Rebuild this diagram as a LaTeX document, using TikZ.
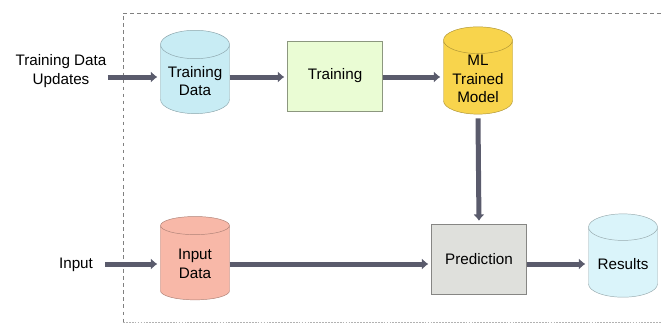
\documentclass[tikz,border=0pt]{standalone}
\usepackage{fontspec}
\setmainfont{Liberation Sans}
\usepackage{tikz}
\usetikzlibrary{arrows.meta, shapes.geometric}

\definecolor{flowgray}{HTML}{5A5B6C}
\definecolor{tdfill}{HTML}{C8ECF4}
\definecolor{trainfill}{HTML}{EAFCD4}
\definecolor{modelfill}{HTML}{F8D44C}
\definecolor{infill}{HTML}{F8B8A8}
\definecolor{predfill}{HTML}{DFE0DC}
\definecolor{resfill}{HTML}{DAF4FA}

\begin{document}
\begin{tikzpicture}[x=0.03cm, y=-0.03cm,
	font=\fontsize{13}{16}\selectfont,
	store/.style={cylinder, shape border rotate=90, aspect=0.5, draw=#1!70!black, align=center,
	  minimum width=2.07cm, minimum height=2.5cm, inner sep=1pt},
	stage/.style={rectangle, draw=#1!60!black, align=center, minimum width=2.85cm, minimum height=2.1cm},
	flow/.style={draw=flowgray, line width=1.5mm, -{Latex[length=1.9mm, width=3.4mm]}, shorten >=0.9mm}]
	\useasboundingbox (0,0) rectangle (661,323);
	\draw[color=gray, dashed, line width=0.8pt] (661,13) -- (123,13) -- (123,322);
	\draw[color=gray!60, dash pattern=on 1.5pt off 1pt, line width=0.8pt] (123,322) -- (661,322);
	\node[align=center, inner sep=1pt] (upd) at (61,71) {Training Data\\Updates};
	\node[inner sep=1pt] (inp) at (76,265) {Input};
	\node[store=tdfill, fill=tdfill] (tdata) at (195,81) {Training\\Data};
	\node[stage=trainfill, fill=trainfill] (train) at (335,76) {Training};
	\node[store=modelfill, fill=modelfill] (model) at (478,79) {ML\\Trained\\Model};
	\node[store=infill, fill=infill] (indata) at (195,264) {Input\\Data};
	\node[stage=predfill, fill=predfill] (pred) at (479,259) {Prediction};
	\node[store=resfill, fill=resfill] (res) at (623,264) {Results};
	\draw[flow] (upd.east |- 0,77) -- (tdata.west |- 0,77);
	\draw[flow, shorten <=3.2mm] (inp.east |- 0,264) -- (indata.west |- 0,264);
	\draw[flow] (tdata.east |- 0,77) -- (train.west |- 0,77);
	\draw[flow] (train.east |- 0,77) -- (model.west |- 0,77);
	\draw[flow] (model.south) ++(0,4) -- (pred.north);
	\draw[flow] (indata.east |- 0,264) -- (pred.west |- 0,264);
	\draw[flow] (pred.east |- 0,264) -- (res.west |- 0,264);
\end{tikzpicture}
\end{document}
